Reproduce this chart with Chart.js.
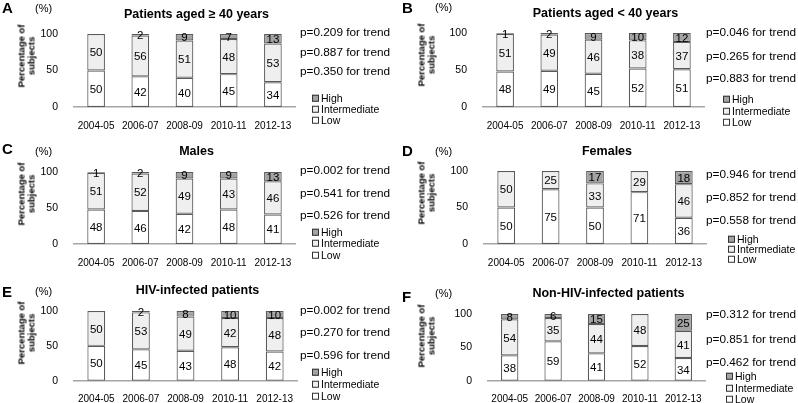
<!DOCTYPE html>
<html lang="en">
  <head>
    <meta charset="utf-8">
    <title>Severity by period</title>
    <script src="https://cdn.jsdelivr.net/npm/chart.js@4.4.0/dist/chart.umd.min.js"></script>
    <style>
      body { margin: 0; padding: 0; background: #fff; font-family: "Liberation Sans", Arial, sans-serif; }
      #fig { position: relative; width: 798px; height: 403px; overflow: hidden; }
      canvas { position: absolute; }
      .t { position: absolute; white-space: nowrap; color: #000; line-height: 1; }
      .letter { font-weight: bold; font-size: 15px; }
      .pct { font-size: 11px; }
      .title { font-weight: bold; font-size: 12.5px; transform: translateX(-50%); }
      .ytitle { font-weight: bold; font-size: 9.5px; text-align: center; line-height: 9.5px;
                transform: translate(-50%, -50%) rotate(-90deg); }
      .pval { font-size: 11.8px; transform: translateY(-50%); }
      .leg { font-size: 10.5px; transform: translateY(-50%); }
      .leg i { display: inline-block; width: 5px; height: 5px; border: 1px solid #333; margin-right: 2px; vertical-align: 0px; }
    </style>
  </head>
  <body>
    <div id="fig"></div>
    <script>

      var periods = ['2004-05', '2006-07', '2008-09', '2010-11', '2012-13'];
      var yTicks = [0, 50, 100];
      var levels = ['High', 'Intermediate', 'Low'];

      // A - aged >= 40
      var lowA = [50, 42, 40, 45, 34];
      var interA = [50, 56, 51, 48, 53];
      var highA = [0, 2, 9, 7, 13];
      var pA = ['0.209', '0.887', '0.350'];

      // B - aged < 40
      var lowB = [48, 49, 45, 52, 51];
      var interB = [51, 49, 46, 38, 37];
      var highB = [1, 2, 9, 10, 12];
      var pB = ['0.046', '0.265', '0.883'];

      // C - males
      var lowC = [48, 46, 42, 48, 41];
      var interC = [51, 52, 49, 43, 46];
      var highC = [1, 2, 9, 9, 13];
      var pC = ['0.002', '0.541', '0.526'];

      // D - females
      var lowD = [50, 75, 50, 71, 36];
      var interD = [50, 25, 33, 29, 46];
      var highD = [0, 0, 17, 0, 18];
      var pD = ['0.946', '0.852', '0.558'];

      // E - HIV infected
      var lowE = [50, 45, 43, 48, 42];
      var interE = [50, 53, 49, 42, 48];
      var highE = [0, 2, 8, 10, 10];
      var pE = ['0.002', '0.270', '0.596'];

      // F - non HIV infected
      var lowF = [38, 59, 41, 52, 34];
      var interF = [54, 35, 44, 48, 41];
      var highF = [8, 6, 15, 0, 25];
      var pF = ['0.312', '0.851', '0.462'];

      var titles = {
        A: 'Patients aged \u2265 40 years',
        B: 'Patients aged < 40 years',
        C: 'Males',
        D: 'Females',
        E: 'HIV-infected patients',
        F: 'Non-HIV-infected patients'
      };

      var colHigh = '#a3a3a3', colInter = '#efefef', colLow = '#ffffff';

      // layout in page pixels: canvas origin, plot area, text rows
      var layout = [
        {id: 'A', low: lowA, inter: interA, high: highA, p: pA, ox: 0, oy: 0, w: 400, h: 135,
         area: [74, 34, 295, 107], letterY: 0, pctY: 3, titleY: 8,
         pX: 300, pY: [33, 53, 72], legX: 312, legY: [98, 109, 120]},
        {id: 'B', low: lowB, inter: interB, high: highB, p: pB, ox: 400, oy: 0, w: 398, h: 135,
         area: [483, 33, 704, 107], letterY: 0, pctY: 2, titleY: 7,
         pX: 706, pY: [33, 57, 79], legX: 723, legY: [99, 111, 122]},
        {id: 'C', low: lowC, inter: interC, high: highC, p: pC, ox: 0, oy: 135, w: 400, h: 135,
         area: [74, 172, 295, 244], letterY: 141, pctY: 146, titleY: 145,
         pX: 300, pY: [171, 194, 216], legX: 312, legY: [232, 243, 255]},
        {id: 'D', low: lowD, inter: interD, high: highD, p: pD, ox: 400, oy: 135, w: 398, h: 135,
         area: [484, 171, 706, 244], letterY: 143, pctY: 146, titleY: 145,
         pX: 706, pY: [175, 198, 221], legX: 728, legY: [239, 249, 259]},
        {id: 'E', low: lowE, inter: interE, high: highE, p: pE, ox: 0, oy: 268, w: 400, h: 135,
         area: [74, 311, 297, 385], letterY: 284, pctY: 286, titleY: 284,
         pX: 300, pY: [311, 333, 356], legX: 312, legY: [372, 384, 396]},
        {id: 'F', low: lowF, inter: interF, high: highF, p: pF, ox: 400, oy: 268, w: 398, h: 135,
         area: [488, 314, 705, 386], letterY: 289, pctY: 288, titleY: 287,
         pX: 706, pY: [315, 340, 363], legX: 726, legY: [376, 388, 399]}
      ];

      var segLabels = {
        id: 'segLabels',
        afterDatasetsDraw(chart) {
          var ctx = chart.ctx;
          ctx.save();
          ctx.font = '11.5px "Liberation Sans", Arial, sans-serif';
          ctx.fillStyle = '#000';
          ctx.textAlign = 'center';
          ctx.textBaseline = 'middle';
          chart.data.datasets.forEach((ds, i) => {
            chart.getDatasetMeta(i).data.forEach((bar, j) => {
              var v = ds.data[j];
              if (!v) return;
              ctx.fillText(v, bar.x, (bar.y + bar.base) / 2 + 1);
            });
          });
          ctx.restore();
        }
      };

      var fig = document.getElementById('fig');
      var Y_W = 40, X_H = 28;

      function addText(cls, html, x, y) {
        var d = document.createElement('div');
        d.className = 't ' + cls;
        d.innerHTML = html;
        d.style.left = x + 'px';
        d.style.top = y + 'px';
        fig.appendChild(d);
        return d;
      }

      layout.forEach(L => {
        var c = document.createElement('canvas');
        c.width = L.w; c.height = L.h;
        c.style.left = L.ox + 'px'; c.style.top = L.oy + 'px';
        fig.appendChild(c);

        var a = L.area;
        new Chart(c.getContext('2d'), {
          type: 'bar',
          data: {
            labels: periods,
            datasets: [
              {label: 'Low', data: L.low, backgroundColor: colLow},
              {label: 'Intermediate', data: L.inter, backgroundColor: colInter},
              {label: 'High', data: L.high, backgroundColor: colHigh}
            ]
          },
          options: {
            responsive: false,
            animation: false,
            devicePixelRatio: 1,
            layout: {
              autoPadding: false,
              padding: {
                left: a[0] - L.ox - Y_W,
                top: a[1] - L.oy,
                right: L.ox + L.w - a[2],
                bottom: L.oy + L.h - a[3] - X_H
              }
            },
            datasets: {
              bar: {
                barPercentage: 0.4,
                categoryPercentage: 1,
                borderColor: '#5a5a5a',
                borderWidth: 1.2,
                borderSkipped: false
              }
            },
            plugins: { legend: {display: false}, title: {display: false}, tooltip: {enabled: false} },
            scales: {
              x: {
                stacked: true,
                grid: {display: false, drawTicks: false},
                border: {display: true, color: '#a6a6a6', width: 1.5},
                ticks: {color: '#000', padding: 13, maxRotation: 0,
                        font: {family: '"Liberation Sans", Arial, sans-serif', size: 10}},
                afterFit: s => { s.height = X_H; }
              },
              y: {
                stacked: true,
                min: 0, max: 100,
                afterBuildTicks: s => { s.ticks = yTicks.map(v => ({value: v})); },
                grid: {display: false, drawTicks: false},
                border: {display: false},
                ticks: {color: '#000', padding: 16,
                        font: {family: '"Liberation Sans", Arial, sans-serif', size: 10.5}},
                afterFit: s => { s.width = Y_W; }
              }
            }
          },
          plugins: [segLabels]
        });

        // annotations around the plot
        addText('letter', L.id, L.ox + 2, L.letterY);
        addText('pct', '(%)', L.ox + 35, L.pctY);
        addText('title', titles[L.id], (a[0] + a[2]) / 2 + 12, L.titleY);
        addText('ytitle', 'Percentage of<br>subjects', L.ox + 26, a[1] + 22);
        L.p.forEach((p, k) => addText('pval', 'p=' + p + ' for trend', L.pX, L.pY[k]));
        var fills = [colHigh, colInter, colLow];
        levels.forEach((lv, k) => addText('leg', '<i style="background:' + fills[k] + '"></i>' + lv, L.legX, L.legY[k]));
      });
    </script>
  </body>
</html>
